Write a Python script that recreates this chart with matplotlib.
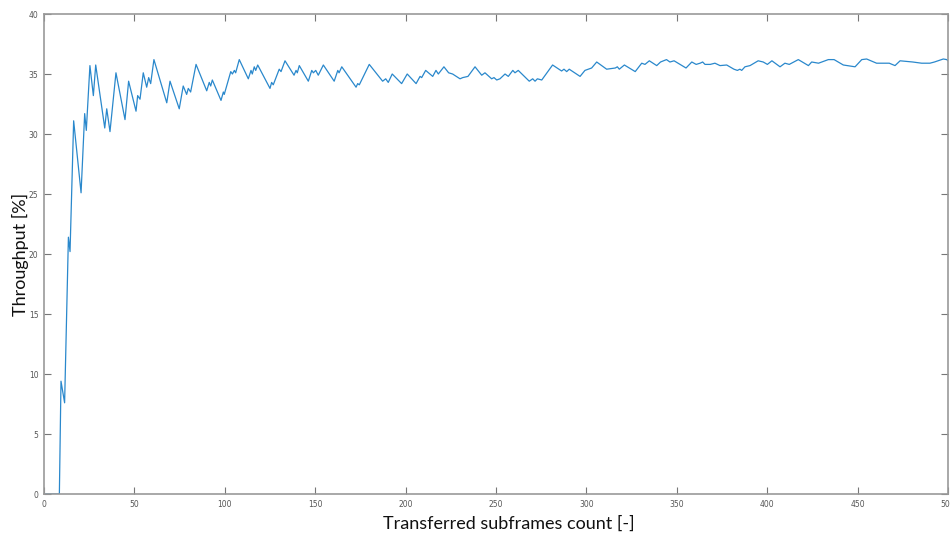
import matplotlib
matplotlib.use('Agg')
import matplotlib.pyplot as plt
import numpy as np

# vertices of the throughput curve
frames = [1, 8.5, 9.4, 11.4, 13.5, 14.4, 16.4, 20.5, 22.5, 23.4, 25.4, 27.3, 28.6,
          33.6, 34.7, 36.5, 39.8, 44.8, 46.8, 50.9, 51.8, 53.1, 54.9, 56.8, 57.9,
          59.0, 60.8, 67.9, 69.7, 74.8, 77.0, 78.9, 79.8, 81.1, 84.1, 90.0, 91.4,
          92.2, 93.1, 97.9, 99.2, 99.7, 103.3, 104.2, 105.3, 106.0, 108.0, 113.0,
          114.5, 115.2, 116.3, 117.1, 118.2, 125.0, 125.9, 126.8, 130.1, 131.1,
          133.3, 138.3, 139.4, 140.1, 141.2, 146.2, 148.1, 149.0, 150.3, 151.7,
          154.5, 160.5, 162.5, 163.2, 164.7, 172.6, 173.5, 174.4, 179.9, 187.3,
          189.0, 190.4, 192.6, 197.8, 200.9, 205.8, 208.0, 208.9, 211.1, 215.0,
          216.8, 218.1, 221.2, 223.8, 226.0, 230.1, 231.6, 234.5, 238.4, 242.1,
          243.9, 247.6, 248.9, 250.4, 252.2, 255.0, 256.8, 259.3, 260.5, 262.3,
          268.4, 270.3, 271.6, 272.9, 275.3, 281.3, 286.3, 287.6, 289.1, 290.5,
          296.5, 299.2, 302.9, 305.7, 311.2, 316.0, 317.1, 318.2, 321.0, 327.0,
          330.6, 332.4, 334.8, 338.9, 341.0, 344.3, 346.2, 348.5, 355.1, 358.3,
          360.7, 362.9, 364.3, 365.6, 368.5, 371.1, 373.9, 377.6, 381.6, 383.5,
          384.9, 385.9, 387.7, 390.5, 395.0, 397.8, 400.1, 402.6, 407.1, 409.8,
          412.2, 417.2, 422.8, 424.6, 428.4, 433.8, 437.0, 442.1, 448.6, 452.3,
          455.0, 460.5, 467.5, 470.7, 473.5, 480.5, 485.4, 490.0, 492.5, 497.4,
          499.3, 500]
throughput = [0, 0, 9.4, 7.6, 21.4, 20.2, 31.1, 25.1, 31.7, 30.3, 35.7, 33.2, 35.75,
              30.5, 32.1, 30.2, 35.1, 31.2, 34.4, 31.9, 33.2, 32.9, 35.1, 33.9, 34.7,
              34.2, 36.2, 32.6, 34.4, 32.1, 34.0, 33.3, 33.8, 33.5, 35.8, 33.6, 34.3,
              34.0, 34.5, 32.8, 33.5, 33.3, 35.2, 35.0, 35.3, 35.1, 36.2, 34.6,
              35.3, 35.0, 35.6, 35.3, 35.75, 33.8, 34.3, 34.1, 35.4, 35.2,
              36.1, 34.9, 35.3, 35.1, 35.7, 34.4, 35.3, 35.1, 35.3, 34.9,
              35.75, 34.4, 35.3, 35.1, 35.6, 33.9, 34.2, 34.1, 35.8, 34.4,
              34.6, 34.3, 35.0, 34.2, 35.0, 34.2, 34.8, 34.7, 35.3, 34.8,
              35.3, 35.0, 35.6, 35.1, 35.0, 34.6, 34.7, 34.8, 35.6, 34.9,
              35.1, 34.6, 34.7, 34.5, 34.6, 35.0, 34.8, 35.3, 35.1, 35.3,
              34.4, 34.6, 34.4, 34.6, 34.5, 35.75, 35.25, 35.4, 35.2, 35.4,
              34.8, 35.3, 35.5, 36.0, 35.4, 35.5, 35.6, 35.4, 35.75, 35.2,
              35.9, 35.8, 36.1, 35.7, 36.0, 36.2, 36.0, 36.1, 35.5, 36.0,
              35.8, 35.9, 36.0, 35.8, 35.8, 35.9, 35.7, 35.75, 35.4, 35.3,
              35.4, 35.3, 35.6, 35.7, 36.1, 36.0, 35.8, 36.1, 35.6, 35.9,
              35.8, 36.2, 35.7, 36.0, 35.9, 36.2, 36.2, 35.75, 35.6, 36.2,
              36.25, 35.9, 35.9, 35.7, 36.1, 36.0, 35.9, 35.9, 36.0, 36.25,
              36.2, 36.1]

xticks = np.arange(0, 501, 50)
yticks = np.arange(0, 41, 5)

fig = plt.figure(figsize=(9.5, 5.34), dpi=100)
ax = fig.add_axes([44/950, 40/534, 904/950, 480/534])

ax.plot(frames, throughput, color='#2a88cc', linewidth=0.9)

ax.set_xlim(0, 500)
ax.set_ylim(0, 40)
ax.set_xticks(xticks)
ax.set_yticks(yticks)
ax.tick_params(direction='in', top=True, right=True, length=5, width=0.8,
               color='#777777', labelsize=5.5, labelcolor='#555555', pad=4)
for s in ax.spines.values():
    s.set_color('#999999')
    s.set_linewidth(1.2)

ax.set_xlabel('Transferred subframes count [-]', family='Lato', fontsize=13,
              color='#111111')
ax.set_ylabel('Throughput [%]', family='Lato', fontsize=13, color='#111111')
# place the labels where the reference has them
ax.xaxis.set_label_coords(0.514, -0.0625)
ax.yaxis.set_label_coords(-0.0265, 0.5)
ax.xaxis.label.set_verticalalignment('center')
ax.yaxis.label.set_verticalalignment('center')

fig.savefig('out.png', dpi=100)
